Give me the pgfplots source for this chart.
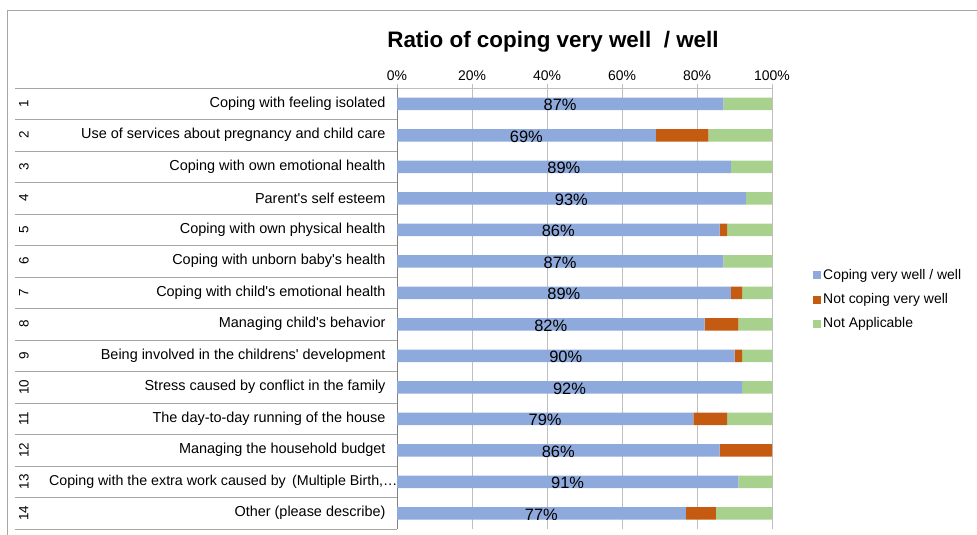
\documentclass[border=0pt]{standalone}
\usepackage{pgfplots}
\pgfplotsset{compat=1.18}
\usepackage{pgfplotstable}
\usepackage{fontspec}
\setmainfont{Liberation Sans}

\definecolor{cblue}{HTML}{8EA9DB}
\definecolor{corange}{HTML}{C55A11}
\definecolor{cgreen}{HTML}{A9D18E}
\definecolor{gridgray}{HTML}{BFBFBF}
\definecolor{linegray}{HTML}{A6A6A6}

\tikzset{datalabel/.style={font=\fontsize{16.5}{19}\selectfont, anchor=center, yshift=-1.5bp, text=black}}

% share of answers per question (percent)
\pgfplotstableread{
row blue orange green
1  87 0  13
2  69 14 17
3  89 0  11
4  93 0  7
5  86 2  12
6  87 0  13
7  89 3  8
8  82 9  9
9  90 2  8
10 92 0  8
11 79 9  12
12 86 14 0
13 91 0  9
14 77 8  15
}\datatable

\begin{document}
\begin{tikzpicture}
\useasboundingbox (0bp,0bp) rectangle (977bp,535bp);
\draw[linegray] (7bp,0bp) -- (7bp,525bp) -- (977bp,525bp);
\node[font=\fontsize{22.5}{27}\selectfont\bfseries] at (553bp,493bp) {Ratio of coping very well~ / well};

\begin{axis}[
    at={(397bp,6bp)}, anchor=south west,
    scale only axis,
    width=375bp, height=441bp,
    xbar stacked,
    bar width=12.5bp,
    xmin=0, xmax=100,
    ymin=0.5, ymax=14.5,
    y dir=reverse,
    axis x line*=top,
    axis y line*=left,
    x axis line style={gridgray},
    y axis line style={gray},
    xtick={0,20,40,60,80,100},
    xticklabels={0\%,20\%,40\%,60\%,80\%,100\%},
    xmajorgrids,
    grid style={gridgray, line width=0.8pt},
    major tick length=4bp,
    tick align=outside,
    xtick style={gridgray},
    ytick style={draw=none},
    ytick={1,...,14},
    yticklabels={
        Coping with feeling isolated,
        Use of services about pregnancy and child care,
        Coping with own emotional health,
        Parent\textquotesingle s self esteem,
        Coping with own physical health,
        Coping with unborn baby\textquotesingle s health,
        Coping with child\textquotesingle s emotional health,
        Managing child\textquotesingle s behavior,
        Being involved in the childrens\textquotesingle\ development,
        Stress caused by conflict in the family,
        The day-to-day running of the house,
        Managing the household budget,
        {\fontsize{14.3}{17}\selectfont Coping with the extra work caused by\, (Multiple Birth,…\hspace*{-12bp}},
        Other (please describe)},
    xticklabel style={font=\fontsize{14}{16}\selectfont},
    yticklabel style={font=\fontsize{14.5}{17}\selectfont, xshift=-4bp},
    clip=false,
    legend style={draw=none, fill=none, at={(1,0.5)}, anchor=west,
        xshift=38bp, yshift=9bp, font=\fontsize{14}{16}\selectfont,
        row sep=8.5bp},
    legend cell align=left,
    legend image code/.code={\path[#1, draw=none] (0bp,-4bp) rectangle (8bp,4bp);},
]
\pgfplotsinvokeforeach{0.5,1.5,...,14.5}{
    \draw[linegray] (axis cs:-101.9,#1) -- (axis cs:0,#1);
}
\pgfplotsinvokeforeach{1,...,14}{
    \node[rotate=90, font=\fontsize{13.5}{15}\selectfont] at (axis cs:-99.5,#1) {#1};
}

\addplot[fill=cblue, draw=none] table[x=blue, y=row] {\datatable};
\addplot[fill=corange, draw=none] table[x=orange, y=row] {\datatable};
\addplot[fill=cgreen, draw=none] table[x=green, y=row] {\datatable};
\legend{Coping very well / well, Not coping very well, Not Applicable}

% anchor points for the value labels, middle of the blue segment
\pgfplotsinvokeforeach{0,...,13}{
    \pgfplotstablegetelem{#1}{blue}\of\datatable
    \expandafter\xdef\csname labval#1\endcsname{\pgfplotsretval}
    \pgfmathsetmacro\half{\pgfplotsretval/2}
    \pgfmathtruncatemacro\rowy{#1+1}
    \edef\temp{\noexpand\coordinate (lab#1) at (axis cs:\half,\rowy);}
    \temp
}
\end{axis}
% value labels drawn on top of the bars
\foreach \i in {0,...,13}{
    \node[datalabel] at (lab\i) {\csname labval\i\endcsname\%};
}
\end{tikzpicture}
\end{document}
